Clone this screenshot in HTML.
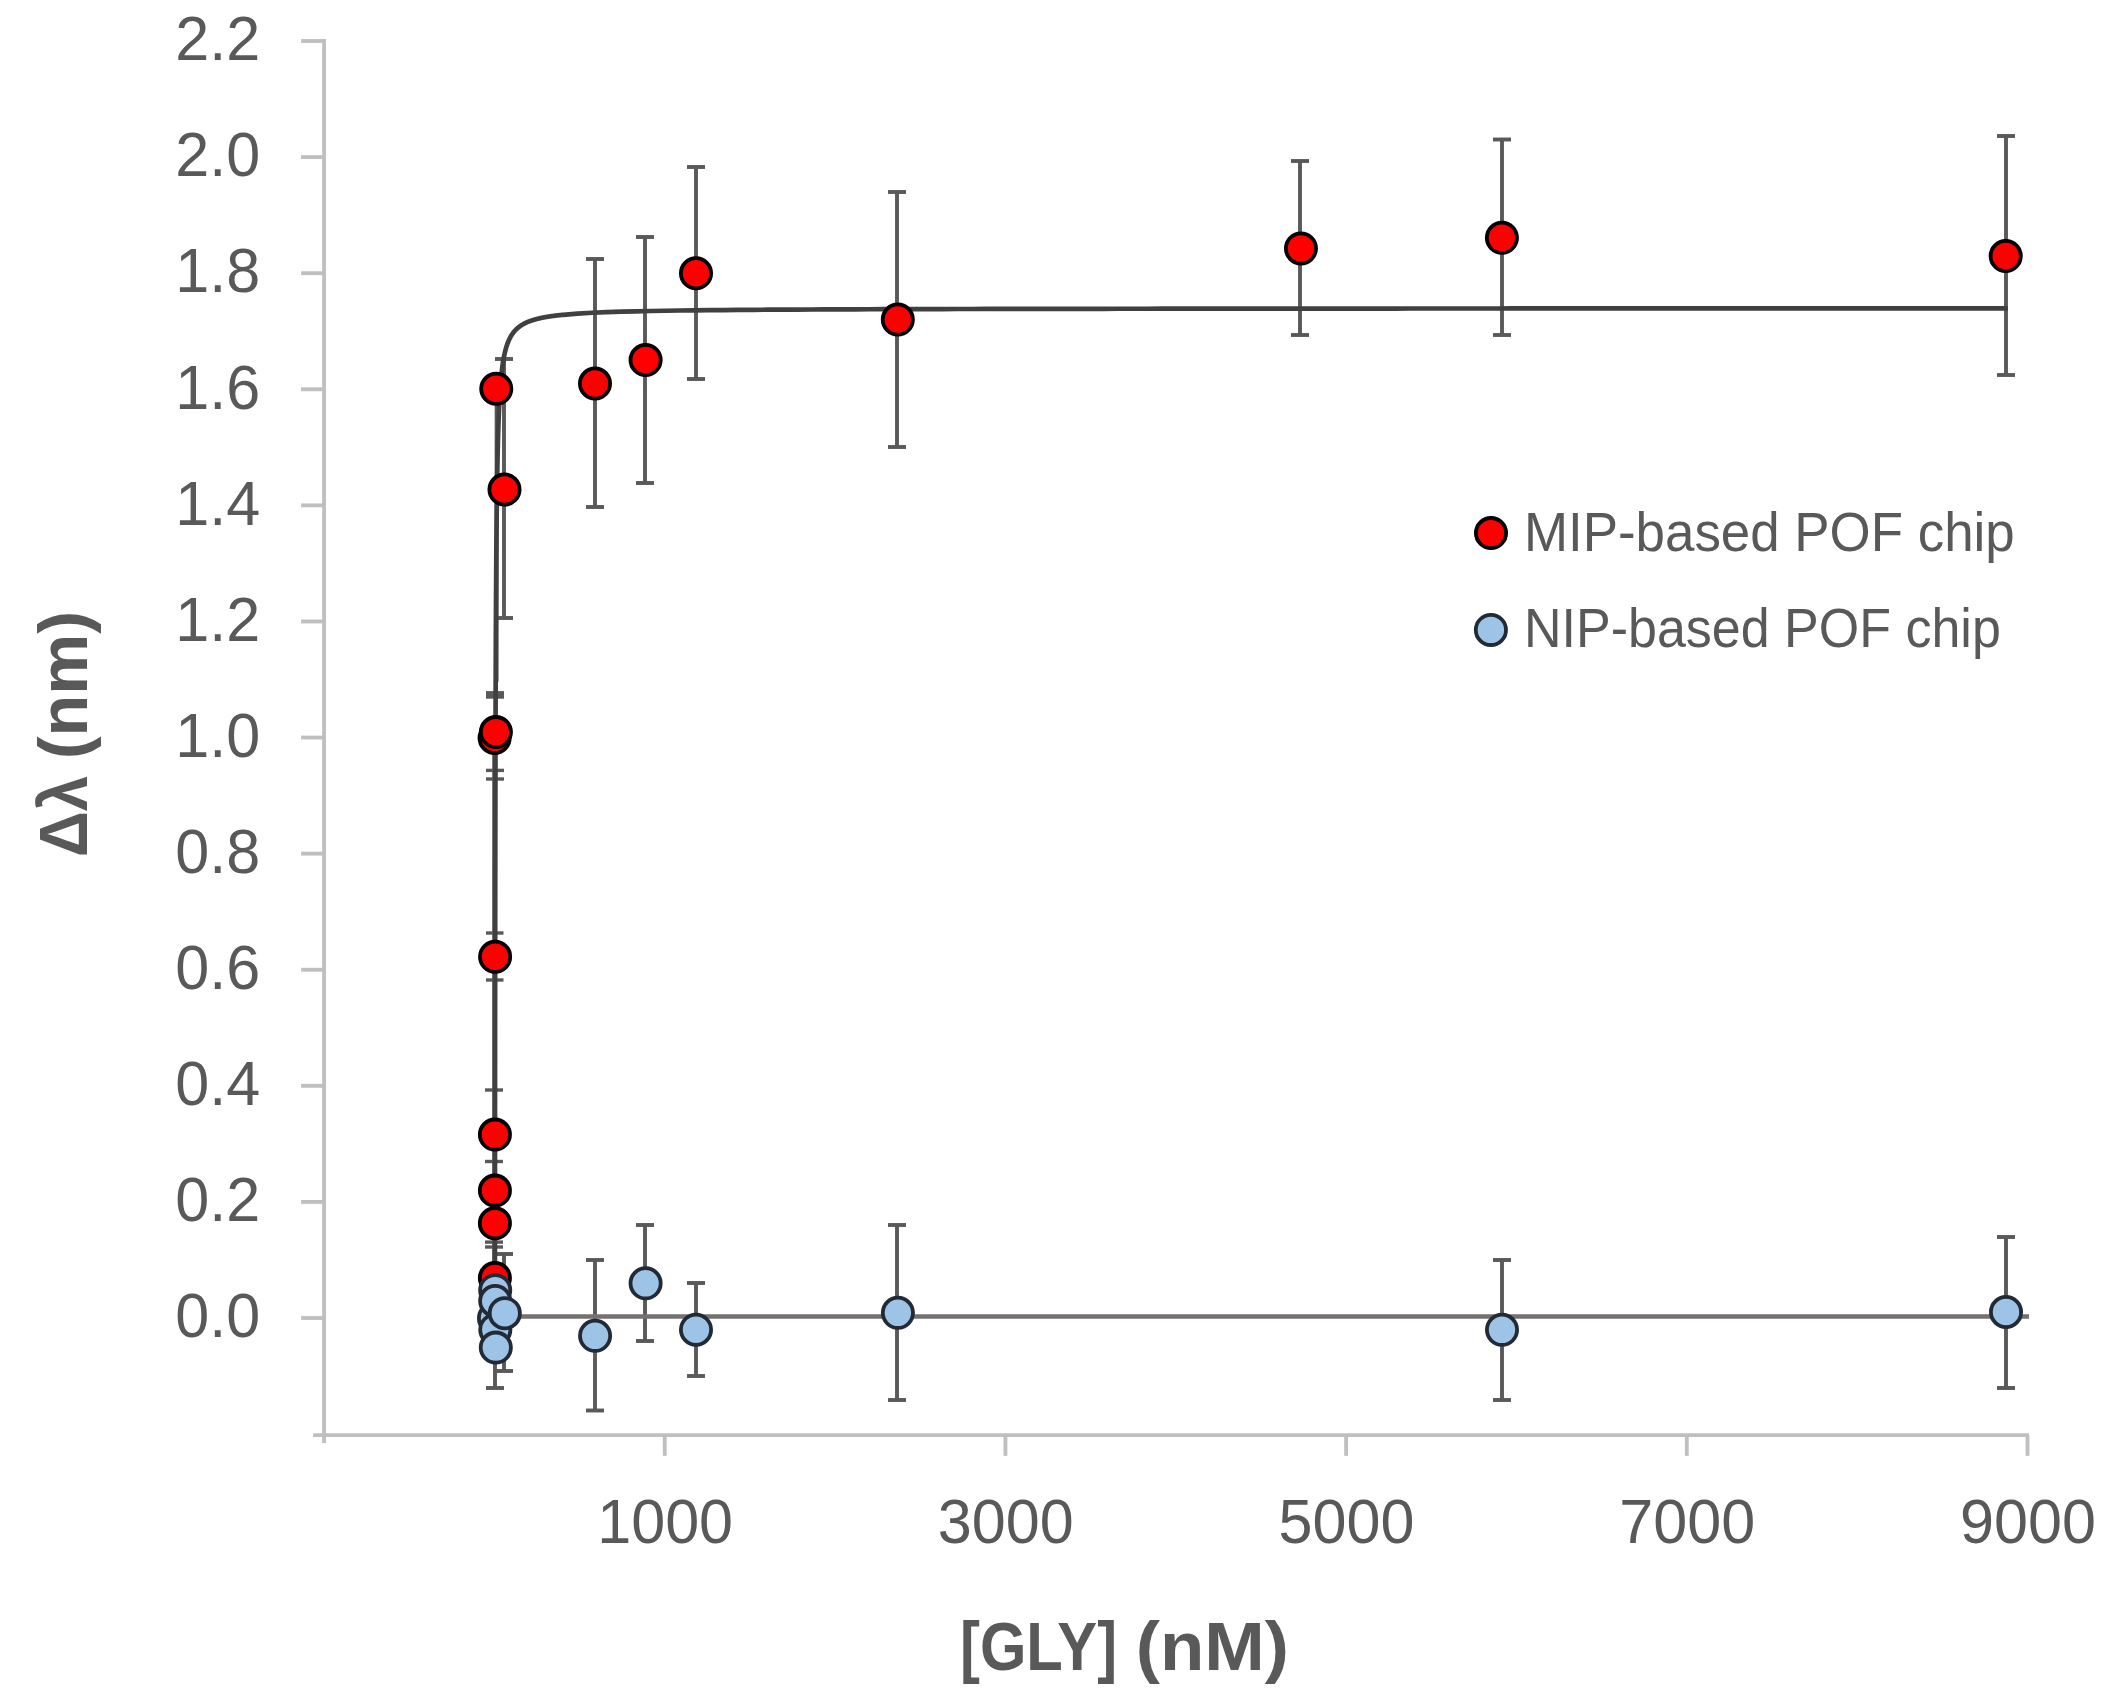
<!DOCTYPE html>
<html lang="en"><head><meta charset="utf-8"><title>Chart</title>
<style>html,body{margin:0;padding:0;background:#fff}body{width:2112px;height:1702px;overflow:hidden}svg{display:block}</style>
</head><body>
<svg width="2112" height="1702" viewBox="0 0 2112 1702">
<rect width="2112" height="1702" fill="#fff"/>
<g stroke="#BFBFBF" stroke-width="3.85" fill="none" stroke-linecap="butt">
<line x1="324.05" y1="39.1" x2="324.05" y2="1442.9"/>
<line x1="313.1" y1="1435.05" x2="2029.0" y2="1435.05"/>
<line x1="301.1" y1="1318.00" x2="324.05" y2="1318.00"/>
<line x1="301.1" y1="1201.91" x2="324.05" y2="1201.91"/>
<line x1="301.1" y1="1085.82" x2="324.05" y2="1085.82"/>
<line x1="301.1" y1="969.73" x2="324.05" y2="969.73"/>
<line x1="301.1" y1="853.64" x2="324.05" y2="853.64"/>
<line x1="301.1" y1="737.55" x2="324.05" y2="737.55"/>
<line x1="301.1" y1="621.46" x2="324.05" y2="621.46"/>
<line x1="301.1" y1="505.37" x2="324.05" y2="505.37"/>
<line x1="301.1" y1="389.28" x2="324.05" y2="389.28"/>
<line x1="301.1" y1="273.19" x2="324.05" y2="273.19"/>
<line x1="301.1" y1="157.10" x2="324.05" y2="157.10"/>
<line x1="301.1" y1="41.01" x2="324.05" y2="41.01"/>
<line x1="664.74" y1="1435.05" x2="664.74" y2="1455.8"/>
<line x1="1005.43" y1="1435.05" x2="1005.43" y2="1455.8"/>
<line x1="1346.12" y1="1435.05" x2="1346.12" y2="1455.8"/>
<line x1="1686.81" y1="1435.05" x2="1686.81" y2="1455.8"/>
<line x1="2027.50" y1="1435.05" x2="2027.50" y2="1455.8"/>
</g>
<text transform="translate(260.30,1337.30) scale(0.9625,1)" font-family="'Liberation Sans', sans-serif" font-size="63.5" fill="#595959" text-anchor="end">0.0</text>
<text transform="translate(260.30,1221.21) scale(0.9625,1)" font-family="'Liberation Sans', sans-serif" font-size="63.5" fill="#595959" text-anchor="end">0.2</text>
<text transform="translate(260.30,1105.12) scale(0.9625,1)" font-family="'Liberation Sans', sans-serif" font-size="63.5" fill="#595959" text-anchor="end">0.4</text>
<text transform="translate(260.30,989.03) scale(0.9625,1)" font-family="'Liberation Sans', sans-serif" font-size="63.5" fill="#595959" text-anchor="end">0.6</text>
<text transform="translate(260.30,872.94) scale(0.9625,1)" font-family="'Liberation Sans', sans-serif" font-size="63.5" fill="#595959" text-anchor="end">0.8</text>
<text transform="translate(260.30,756.85) scale(0.9625,1)" font-family="'Liberation Sans', sans-serif" font-size="63.5" fill="#595959" text-anchor="end">1.0</text>
<text transform="translate(260.30,640.76) scale(0.9625,1)" font-family="'Liberation Sans', sans-serif" font-size="63.5" fill="#595959" text-anchor="end">1.2</text>
<text transform="translate(260.30,524.67) scale(0.9625,1)" font-family="'Liberation Sans', sans-serif" font-size="63.5" fill="#595959" text-anchor="end">1.4</text>
<text transform="translate(260.30,408.58) scale(0.9625,1)" font-family="'Liberation Sans', sans-serif" font-size="63.5" fill="#595959" text-anchor="end">1.6</text>
<text transform="translate(260.30,292.49) scale(0.9625,1)" font-family="'Liberation Sans', sans-serif" font-size="63.5" fill="#595959" text-anchor="end">1.8</text>
<text transform="translate(260.30,176.40) scale(0.9625,1)" font-family="'Liberation Sans', sans-serif" font-size="63.5" fill="#595959" text-anchor="end">2.0</text>
<text transform="translate(260.30,60.31) scale(0.9625,1)" font-family="'Liberation Sans', sans-serif" font-size="63.5" fill="#595959" text-anchor="end">2.2</text>
<text transform="translate(665.14,1543.20) scale(0.9625,1)" font-family="'Liberation Sans', sans-serif" font-size="63.5" fill="#595959" text-anchor="middle">1000</text>
<text transform="translate(1005.83,1543.20) scale(0.9625,1)" font-family="'Liberation Sans', sans-serif" font-size="63.5" fill="#595959" text-anchor="middle">3000</text>
<text transform="translate(1346.52,1543.20) scale(0.9625,1)" font-family="'Liberation Sans', sans-serif" font-size="63.5" fill="#595959" text-anchor="middle">5000</text>
<text transform="translate(1687.21,1543.20) scale(0.9625,1)" font-family="'Liberation Sans', sans-serif" font-size="63.5" fill="#595959" text-anchor="middle">7000</text>
<text transform="translate(2027.90,1543.20) scale(0.9625,1)" font-family="'Liberation Sans', sans-serif" font-size="63.5" fill="#595959" text-anchor="middle">9000</text>
<text transform="translate(960.00,1669.80) scale(0.8655,1)" font-family="'Liberation Sans', sans-serif" font-size="69" font-weight="bold" fill="#595959" text-anchor="start">[GLY]</text>
<text transform="translate(1289.00,1669.80) scale(1.0525,1)" font-family="'Liberation Sans', sans-serif" font-size="69" font-weight="bold" fill="#595959" text-anchor="end">(nM)</text>
<text transform="translate(87.00,857.00) rotate(-90) scale(0.922,1)" font-family="'Liberation Sans', sans-serif" font-size="69" font-weight="bold" fill="#595959" text-anchor="start">Δλ</text>
<text transform="translate(87.00,611.00) rotate(-90) scale(0.9927,1)" font-family="'Liberation Sans', sans-serif" font-size="69" font-weight="bold" fill="#595959" text-anchor="end">(nm)</text>
<g stroke="#595959" stroke-width="3.9" fill="none">
<line x1="504" y1="359" x2="504" y2="618"/><line x1="495.00" y1="359" x2="513.00" y2="359"/><line x1="495.00" y1="618" x2="513.00" y2="618"/>
<line x1="595" y1="259" x2="595" y2="507"/><line x1="586.00" y1="259" x2="604.00" y2="259"/><line x1="586.00" y1="507" x2="604.00" y2="507"/>
<line x1="645" y1="237" x2="645" y2="483"/><line x1="636.00" y1="237" x2="654.00" y2="237"/><line x1="636.00" y1="483" x2="654.00" y2="483"/>
<line x1="696" y1="167" x2="696" y2="379"/><line x1="687.00" y1="167" x2="705.00" y2="167"/><line x1="687.00" y1="379" x2="705.00" y2="379"/>
<line x1="897" y1="192" x2="897" y2="447"/><line x1="888.00" y1="192" x2="906.00" y2="192"/><line x1="888.00" y1="447" x2="906.00" y2="447"/>
<line x1="1300" y1="161" x2="1300" y2="335"/><line x1="1291.00" y1="161" x2="1309.00" y2="161"/><line x1="1291.00" y1="335" x2="1309.00" y2="335"/>
<line x1="1502" y1="139.5" x2="1502" y2="335"/><line x1="1493.00" y1="139.5" x2="1511.00" y2="139.5"/><line x1="1493.00" y1="335" x2="1511.00" y2="335"/>
<line x1="2006" y1="136" x2="2006" y2="375"/><line x1="1997.00" y1="136" x2="2015.00" y2="136"/><line x1="1997.00" y1="375" x2="2015.00" y2="375"/>
<line x1="495" y1="1290" x2="495" y2="1388"/><line x1="486.00" y1="1290" x2="504.00" y2="1290"/><line x1="486.00" y1="1388" x2="504.00" y2="1388"/>
<line x1="504" y1="1254" x2="504" y2="1371"/><line x1="495.00" y1="1254" x2="513.00" y2="1254"/><line x1="495.00" y1="1371" x2="513.00" y2="1371"/>
<line x1="595" y1="1260" x2="595" y2="1410.5"/><line x1="586.00" y1="1260" x2="604.00" y2="1260"/><line x1="586.00" y1="1410.5" x2="604.00" y2="1410.5"/>
<line x1="645" y1="1225" x2="645" y2="1341"/><line x1="636.00" y1="1225" x2="654.00" y2="1225"/><line x1="636.00" y1="1341" x2="654.00" y2="1341"/>
<line x1="696" y1="1283" x2="696" y2="1376"/><line x1="687.00" y1="1283" x2="705.00" y2="1283"/><line x1="687.00" y1="1376" x2="705.00" y2="1376"/>
<line x1="897" y1="1225" x2="897" y2="1400"/><line x1="888.00" y1="1225" x2="906.00" y2="1225"/><line x1="888.00" y1="1400" x2="906.00" y2="1400"/>
<line x1="1502" y1="1260" x2="1502" y2="1400"/><line x1="1493.00" y1="1260" x2="1511.00" y2="1260"/><line x1="1493.00" y1="1400" x2="1511.00" y2="1400"/>
<line x1="2006" y1="1237" x2="2006" y2="1388"/><line x1="1997.00" y1="1237" x2="2015.00" y2="1237"/><line x1="1997.00" y1="1388" x2="2015.00" y2="1388"/>
<line x1="496.6" y1="389" x2="496.6" y2="681.7"/>
</g>
<rect x="486.0" y="691.1" width="18" height="7.6" fill="#595959" stroke="none"/>
<g stroke="#595959" stroke-width="3.4" fill="none">
<line x1="486" y1="770.4" x2="504" y2="770.4"/>
<line x1="486" y1="779.0" x2="504" y2="779.0"/>
<line x1="486" y1="933.0" x2="503.5" y2="933.0"/>
<line x1="486" y1="980.0" x2="503.5" y2="980.0"/>
<line x1="485" y1="1090.0" x2="503" y2="1090.0"/>
<line x1="485" y1="1161.5" x2="503" y2="1161.5"/>
<line x1="485" y1="1242.1" x2="503" y2="1242.1"/>
<line x1="485" y1="1247.0" x2="503" y2="1247.0"/>
</g>
<line x1="494.2" y1="752" x2="494.2" y2="1318" stroke="#595959" stroke-width="4"/>
<path d="M494.90,1318.00 L494.96,1205.34 L495.02,1115.29 L495.07,1041.67 L495.13,980.35 L495.19,928.50 L495.25,884.07 L495.30,845.57 L495.36,811.90 L495.42,782.20 L495.48,755.81 L495.54,732.19 L495.59,710.95 L495.65,691.73 L495.71,674.26 L495.77,658.31 L495.82,643.69 L495.88,630.25 L495.94,617.84 L496.00,606.35 L496.05,595.68 L496.11,585.75 L496.17,576.48 L496.23,567.81 L496.29,559.68 L496.34,552.05 L496.40,544.86 L496.46,538.09 L496.52,531.69 L496.57,525.64 L496.63,519.91 L496.69,514.47 L496.75,509.31 L496.81,504.39 L496.86,499.71 L496.92,495.25 L496.98,490.99 L497.04,486.92 L497.09,483.03 L497.15,479.30 L497.21,475.73 L497.27,472.31 L497.33,469.02 L497.38,465.86 L497.44,462.82 L497.50,459.90 L497.56,457.09 L497.61,454.37 L497.67,451.76 L497.73,449.24 L497.79,446.80 L497.84,444.45 L497.90,442.17 L497.96,439.97 L498.02,437.84 L498.08,435.78 L498.13,433.78 L498.19,431.85 L498.25,429.97 L498.31,428.15 L498.63,418.83 L498.96,410.85 L499.28,403.94 L499.61,397.90 L499.93,392.58 L500.26,387.85 L500.58,383.63 L500.91,379.82 L501.23,376.39 L501.56,373.26 L501.89,370.41 L502.21,367.80 L502.54,365.40 L502.86,363.18 L503.19,361.13 L503.51,359.22 L503.84,357.45 L504.16,355.80 L504.49,354.25 L504.81,352.80 L505.14,351.44 L505.46,350.16 L505.79,348.95 L506.11,347.81 L506.44,346.73 L506.76,345.71 L507.09,344.74 L507.41,343.82 L507.74,342.94 L508.07,342.11 L508.39,341.31 L508.72,340.56 L509.04,339.83 L509.37,339.14 L509.69,338.47 L510.02,337.84 L510.34,337.23 L510.67,336.64 L510.99,336.08 L511.32,335.54 L511.64,335.02 L511.97,334.52 L512.29,334.03 L512.62,333.57 L512.94,333.12 L513.27,332.69 L513.60,332.27 L513.92,331.86 L514.25,331.47 L514.57,331.09 L514.90,330.73 L515.22,330.37 L515.55,330.03 L515.87,329.69 L516.20,329.37 L516.52,329.05 L516.85,328.75 L517.17,328.45 L517.50,328.16 L517.82,327.88 L518.15,327.61 L518.47,327.34 L518.80,327.09 L519.12,326.84 L519.45,326.59 L519.78,326.35 L520.10,326.12 L520.43,325.89 L520.75,325.67 L521.08,325.46 L521.40,325.25 L521.73,325.04 L522.05,324.84 L522.38,324.64 L522.70,324.45 L523.03,324.27 L523.35,324.08 L523.68,323.90 L524.00,323.73 L524.33,323.56 L524.65,323.39 L524.98,323.23 L525.31,323.07 L525.63,322.91 L525.96,322.76 L526.28,322.61 L526.61,322.46 L526.93,322.31 L527.26,322.17 L527.58,322.03 L527.91,321.90 L528.23,321.76 L528.56,321.63 L528.88,321.50 L529.21,321.38 L529.53,321.25 L529.86,321.13 L530.18,321.01 L530.51,320.90 L530.84,320.78 L531.16,320.67 L531.49,320.56 L531.81,320.45 L532.14,320.34 L532.46,320.23 L532.79,320.13 L533.11,320.03 L533.44,319.93 L533.76,319.83 L534.09,319.73 L534.41,319.64 L534.74,319.54 L535.06,319.45 L535.39,319.36 L535.71,319.27 L536.04,319.18 L536.36,319.10 L536.69,319.01 L537.02,318.93 L537.34,318.84 L537.67,318.76 L537.99,318.68 L538.32,318.60 L538.64,318.53 L538.97,318.45 L539.29,318.37 L539.62,318.30 L539.94,318.23 L540.27,318.15 L540.59,318.08 L540.92,318.01 L541.24,317.94 L541.57,317.87 L541.89,317.81 L542.22,317.74 L542.55,317.67 L542.87,317.61 L543.20,317.54 L543.52,317.48 L543.85,317.42 L544.17,317.36 L544.50,317.30 L544.82,317.24 L545.15,317.18 L545.47,317.12 L545.80,317.06 L546.12,317.00 L546.45,316.95 L546.77,316.89 L547.10,316.84 L547.42,316.78 L547.75,316.73 L548.08,316.68 L548.40,316.63 L548.73,316.57 L549.05,316.52 L549.38,316.47 L549.70,316.42 L550.03,316.37 L550.35,316.33 L550.68,316.28 L551.00,316.23 L551.33,316.18 L551.65,316.14 L551.98,316.09 L552.30,316.04 L552.63,316.00 L552.95,315.96 L553.28,315.91 L553.60,315.87 L553.93,315.83 L554.26,315.78 L554.58,315.74 L554.91,315.70 L555.23,315.66 L555.56,315.62 L555.88,315.58 L556.21,315.54 L556.53,315.50 L556.86,315.46 L557.18,315.42 L557.51,315.38 L557.83,315.34 L558.16,315.31 L558.48,315.27 L558.81,315.23 L559.13,315.20 L559.46,315.16 L559.79,315.13 L560.11,315.09 L560.44,315.06 L560.76,315.02 L561.09,314.99 L561.41,314.95 L561.74,314.92 L562.06,314.89 L562.39,314.85 L562.71,314.82 L563.04,314.79 L577.63,313.60 L592.23,312.77 L606.82,312.15 L621.42,311.68 L636.01,311.30 L650.61,310.99 L665.20,310.74 L679.79,310.52 L694.39,310.34 L708.98,310.18 L723.58,310.04 L738.17,309.92 L752.77,309.82 L767.36,309.72 L781.96,309.63 L796.55,309.55 L811.15,309.48 L825.74,309.42 L840.34,309.36 L854.93,309.31 L869.52,309.26 L884.12,309.21 L898.71,309.17 L913.31,309.13 L927.90,309.09 L942.50,309.05 L957.09,309.02 L971.69,308.99 L986.28,308.96 L1000.88,308.93 L1015.47,308.91 L1030.07,308.88 L1044.66,308.86 L1059.25,308.84 L1073.85,308.82 L1088.44,308.80 L1103.04,308.78 L1117.63,308.76 L1132.23,308.75 L1146.82,308.73 L1161.42,308.71 L1176.01,308.70 L1190.61,308.68 L1205.20,308.67 L1219.80,308.66 L1234.39,308.64 L1248.98,308.63 L1263.58,308.62 L1278.17,308.61 L1292.77,308.60 L1307.36,308.59 L1321.96,308.58 L1336.55,308.57 L1351.15,308.56 L1365.74,308.55 L1380.34,308.54 L1394.93,308.53 L1409.53,308.52 L1424.12,308.52 L1438.71,308.51 L1453.31,308.50 L1467.90,308.49 L1482.50,308.49 L1497.09,308.48 L1511.69,308.47 L1526.28,308.47 L1540.88,308.46 L1555.47,308.45 L1570.07,308.45 L1584.66,308.44 L1599.26,308.44 L1613.85,308.43 L1628.44,308.43 L1643.04,308.42 L1657.63,308.42 L1672.23,308.41 L1686.82,308.41 L1701.42,308.40 L1716.01,308.40 L1730.61,308.39 L1745.20,308.39 L1759.80,308.38 L1774.39,308.38 L1788.99,308.38 L1803.58,308.37 L1818.17,308.37 L1832.77,308.36 L1847.36,308.36 L1861.96,308.36 L1876.55,308.35 L1891.15,308.35 L1905.74,308.35 L1920.34,308.34 L1934.93,308.34 L1949.53,308.34 L1964.12,308.33 L1978.72,308.33 L1993.31,308.33 L2007.90,308.32" fill="none" stroke="#404040" stroke-width="4.7" stroke-linejoin="round"/>
<line x1="494.3" y1="1316.4" x2="2029" y2="1316.4" stroke="#767171" stroke-width="4.5"/>
<g fill="#FF0000" stroke="#000" stroke-width="3.8">
<circle cx="494.9" cy="1278.0" r="15.1"/>
<circle cx="494.9" cy="1223.2" r="15.1"/>
<circle cx="494.9" cy="1190.6" r="15.1"/>
<circle cx="494.9" cy="1134.6" r="15.1"/>
<circle cx="495.1" cy="956.7" r="15.1"/>
<circle cx="494.6" cy="738.0" r="15.1"/>
<circle cx="495.9" cy="732.1" r="15.1"/>
<circle cx="496.25" cy="388.75" r="15.1"/>
<circle cx="504.5" cy="489.5" r="15.1"/>
<circle cx="595.0" cy="383.5" r="15.1"/>
<circle cx="645.6" cy="360.0" r="15.1"/>
<circle cx="696.0" cy="273.25" r="15.1"/>
<circle cx="897.8" cy="319.5" r="15.1"/>
<circle cx="1300.95" cy="248.4" r="15.1"/>
<circle cx="1501.9" cy="237.8" r="15.1"/>
<circle cx="2005.7" cy="256.0" r="15.1"/>
</g>
<g fill="#9DC3E6" stroke="#222A35" stroke-width="3.8">
<circle cx="494.0" cy="1318.2" r="15.1"/>
<circle cx="495.2" cy="1290.2" r="15.1"/>
<circle cx="495.2" cy="1301.0" r="15.1"/>
<circle cx="495.3" cy="1329.7" r="15.1"/>
<circle cx="495.8" cy="1347.6" r="15.1"/>
<circle cx="504.8" cy="1313.2" r="15.1"/>
<circle cx="595.1" cy="1335.8" r="15.1"/>
<circle cx="645.6" cy="1283.3" r="15.1"/>
<circle cx="696.0" cy="1329.7" r="15.1"/>
<circle cx="897.9" cy="1312.8" r="15.1"/>
<circle cx="1502.0" cy="1329.8" r="15.1"/>
<circle cx="2006.0" cy="1312.0" r="15.1"/>
</g>
<circle cx="1491.0" cy="533.1" r="15.1" fill="#FF0000" stroke="#000" stroke-width="3.8"/>
<circle cx="1490.9" cy="629.9" r="15.1" fill="#9DC3E6" stroke="#222A35" stroke-width="3.8"/>
<text transform="translate(1524.00,551.00) scale(0.9615,1)" font-family="'Liberation Sans', sans-serif" font-size="55" fill="#595959" text-anchor="start">MIP-based POF chip</text>
<text transform="translate(1524.00,647.00) scale(0.9455,1)" font-family="'Liberation Sans', sans-serif" font-size="55" fill="#595959" text-anchor="start">NIP-based POF chip</text>
</svg>
</body></html>
